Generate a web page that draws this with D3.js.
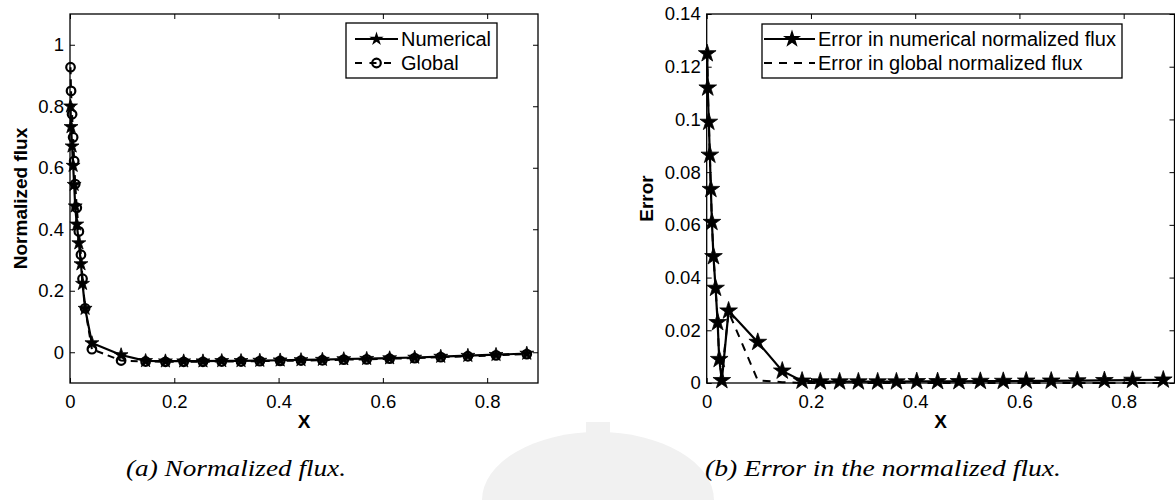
<!DOCTYPE html>
<html><head><meta charset="utf-8">
<script src="https://cdn.jsdelivr.net/npm/d3@7"></script>
<style>
body{margin:0;background:#fff;}
svg{display:block;}
</style>
</head><body>
<svg id="c" width="1175" height="500"></svg>
<script>
// ---- data ----
const xPos = [0.001, 0.002, 0.004, 0.006, 0.008, 0.010, 0.013, 0.017, 0.021, 0.024, 0.029, 0.042, 0.098,
  0.145, 0.183, 0.218, 0.255, 0.291, 0.328, 0.364, 0.403, 0.443, 0.484, 0.525, 0.569, 0.613, 0.661, 0.711, 0.763, 0.817, 0.876];
const fluxNumerical = [0.800, 0.733, 0.670, 0.607, 0.545, 0.475, 0.416, 0.355, 0.287, 0.223, 0.142, 0.030, -0.009,
  -0.028, -0.029, -0.029, -0.029, -0.028, -0.028, -0.027, -0.026, -0.025, -0.024, -0.022, -0.021, -0.019, -0.017, -0.014, -0.011, -0.008, -0.004];
const fluxGlobal = [0.927, 0.850, 0.774, 0.699, 0.622, 0.547, 0.470, 0.393, 0.317, 0.239, 0.143, 0.010, -0.027,
  -0.030, -0.031, -0.031, -0.031, -0.030, -0.030, -0.029, -0.028, -0.027, -0.026, -0.024, -0.023, -0.021, -0.019, -0.016, -0.013, -0.010, -0.006];
const errNumerical = [0.125, 0.112, 0.099, 0.0865, 0.0735, 0.061, 0.048, 0.036, 0.023, 0.009, 0.001, 0.0274, 0.0155,
  0.0046, 0.0008, 0.0005, 0.0005, 0.0005, 0.0005, 0.0005, 0.0006, 0.0006, 0.0006, 0.0007, 0.0007, 0.0008, 0.0008, 0.0009, 0.0010, 0.0011, 0.0012];
const errGlobal = [0.125, 0.112, 0.099, 0.0865, 0.0735, 0.061, 0.048, 0.036, 0.024, 0.008, 0.003, 0.027, 0.001,
  0.0003, 0, 0, 0, 0, 0, 0, 0, 0, 0, 0, 0, 0, 0, 0, 0, 0, 0];
const xTicks = [0, 0.2, 0.4, 0.6, 0.8];
const xTickLabels = ["0", "0.2", "0.4", "0.6", "0.8"];
const fluxTicks = [0, 0.2, 0.4, 0.6, 0.8, 1];
const fluxTickLabels = ["0", "0.2", "0.4", "0.6", "0.8", "1"];
const errTicks = [0, 0.02, 0.04, 0.06, 0.08, 0.1, 0.12, 0.14];
const errTickLabels = ["0", "0.02", "0.04", "0.06", "0.08", "0.1", "0.12", "0.14"];
const legendFlux = ["Numerical", "Global"];
const legendErr = ["Error in numerical normalized flux", "Error in global normalized flux"];
const axisTitles = ["Normalized flux", "Error", "X"];
const captions = ["(a) Normalized flux.", "(b) Error in the normalized flux."];

const SANS = '"Liberation Sans", Arial, Helvetica, sans-serif';
const SERIF = '"Liberation Serif", "DejaVu Serif", serif';
const svg = d3.select("#c");

// faint background watermark
const wm = svg.append("g").attr("fill", "#f1f1f1");
wm.append("path").attr("d", "M482,500 A116,68 0 0 1 714,500 Z");
wm.append("rect").attr("x", 586).attr("y", 422).attr("width", 24).attr("height", 14);

const TICK_FS = 18.5, LEG_FS = 20, TITLE_FS = 19;

function panel(cfg) {
  const g = svg.append("g");
  const x = d3.scaleLinear().domain([0, 0.8975]).range([cfg.left, cfg.right]);
  const y = d3.scaleLinear().domain(cfg.yDomain).range([cfg.bottom, cfg.top]);

  const fmtX = (d) => xTickLabels[xTicks.indexOf(d)];
  const fmtY = (d) => cfg.yLabels[cfg.yTicks.indexOf(d)];

  const ax = g.append("g").attr("transform", `translate(0,${cfg.bottom})`)
    .call(d3.axisBottom(x).tickValues(xTicks).tickFormat(fmtX).tickSizeInner(-5).tickSizeOuter(0).tickPadding(12));
  const ay = g.append("g").attr("transform", `translate(${cfg.left},0)`)
    .call(d3.axisLeft(y).tickValues(cfg.yTicks).tickFormat(fmtY).tickSizeInner(-5).tickSizeOuter(0).tickPadding(6));
  const at = g.append("g").attr("transform", `translate(0,${cfg.top})`)
    .call(d3.axisTop(x).tickValues(xTicks).tickFormat("").tickSizeInner(-5).tickSizeOuter(0));
  const ar = g.append("g").attr("transform", `translate(${cfg.right},0)`)
    .call(d3.axisRight(y).tickValues(cfg.yTicks).tickFormat("").tickSizeInner(-5).tickSizeOuter(0));
  [ax, ay, at, ar].forEach(a => {
    a.select(".domain").remove();
    a.selectAll("line").attr("stroke", "#000").attr("stroke-width", 1);
    a.selectAll("text").attr("font-size", TICK_FS).attr("font-family", SANS).attr("fill", "#000");
  });

  g.append("rect").attr("x", cfg.left).attr("y", cfg.top)
    .attr("width", cfg.right - cfg.left).attr("height", cfg.bottom - cfg.top)
    .attr("fill", "none").attr("stroke", "#000").attr("stroke-width", 1.3);

  // axis titles
  g.append("text").attr("x", (cfg.left + cfg.right) / 2).attr("y", cfg.bottom + 45)
    .attr("text-anchor", "middle").attr("font-family", SANS).attr("font-size", TITLE_FS).attr("font-weight", "bold").text(axisTitles[2]);
  g.append("text").attr("transform", `translate(${cfg.ytitleX},${(cfg.top + cfg.bottom) / 2}) rotate(-90)`)
    .attr("text-anchor", "middle").attr("font-family", SANS).attr("font-size", TITLE_FS).attr("font-weight", "bold").text(cfg.yTitle);

  return { g, x, y };
}

function starPath(R) {
  return d3.symbol().type(d3.symbolStar).size(R * R / 0.8908130915292852)();
}

// ---------- Panel (a) ----------
const A = panel({ left: 70, right: 538, top: 14, bottom: 383, yDomain: [-0.1, 1.1],
  yTicks: fluxTicks, yLabels: fluxTickLabels, yTitle: axisTitles[0], ytitleX: 27 });

const lineA = (arr) => d3.line().x((d, i) => A.x(xPos[i])).y(d => A.y(d))(arr);
A.g.append("path").attr("d", lineA(fluxGlobal)).attr("fill", "none").attr("stroke", "#000")
  .attr("stroke-width", 2).attr("stroke-dasharray", "7,5");
A.g.append("g").selectAll("circle").data(fluxGlobal).join("circle")
  .attr("cx", (d, i) => A.x(xPos[i])).attr("cy", d => A.y(d)).attr("r", 4.3)
  .attr("fill", "none").attr("stroke", "#000").attr("stroke-width", 2.2);
A.g.append("path").attr("d", lineA(fluxNumerical)).attr("fill", "none").attr("stroke", "#000").attr("stroke-width", 2.2);
A.g.append("g").selectAll("path").data(fluxNumerical).join("path")
  .attr("d", starPath(7.3)).attr("transform", (d, i) => `translate(${A.x(xPos[i])},${A.y(d)})`)
  .attr("fill", "#000").attr("stroke", "#000").attr("stroke-width", 0.8);

// legend (a)
{
  const lg = A.g.append("g");
  lg.append("rect").attr("x", 346).attr("y", 23).attr("width", 151).attr("height", 55)
    .attr("fill", "#fff").attr("stroke", "#000").attr("stroke-width", 1.3);
  const rows = [39, 63];
  lg.append("line").attr("x1", 355).attr("x2", 398).attr("y1", rows[0]).attr("y2", rows[0]).attr("stroke", "#000").attr("stroke-width", 2.2);
  lg.append("path").attr("d", starPath(7.5)).attr("transform", `translate(376.5,${rows[0]})`).attr("fill", "#000");
  lg.append("line").attr("x1", 355).attr("x2", 398).attr("y1", rows[1]).attr("y2", rows[1]).attr("stroke", "#000").attr("stroke-width", 2).attr("stroke-dasharray", "7,7.5");
  lg.append("circle").attr("cx", 376.5).attr("cy", rows[1]).attr("r", 4.3).attr("fill", "none").attr("stroke", "#000").attr("stroke-width", 2.2);
  legendFlux.forEach((t, i) => lg.append("text").attr("x", 401).attr("y", rows[i]).attr("dy", "0.36em")
    .attr("font-family", SANS).attr("font-size", LEG_FS).text(t));
}

// ---------- Panel (b) ----------
const B = panel({ left: 706.7, right: 1174.5, top: 14, bottom: 383, yDomain: [0, 0.14],
  yTicks: errTicks, yLabels: errTickLabels, yTitle: axisTitles[1], ytitleX: 653 });

const lineB = (arr) => d3.line().x((d, i) => B.x(xPos[i])).y(d => B.y(d))(arr);
B.g.append("path").attr("d", lineB(errGlobal)).attr("fill", "none").attr("stroke", "#000")
  .attr("stroke-width", 2).attr("stroke-dasharray", "8,7");
B.g.append("path").attr("d", lineB(errNumerical)).attr("fill", "none").attr("stroke", "#000").attr("stroke-width", 2.2);
B.g.append("g").selectAll("path").data(errNumerical).join("path")
  .attr("d", starPath(9.3)).attr("transform", (d, i) => `translate(${B.x(xPos[i])},${B.y(d)})`)
  .attr("fill", "#000").attr("stroke", "#000").attr("stroke-width", 0.8);

// legend (b)
{
  const lg = B.g.append("g");
  lg.append("rect").attr("x", 762).attr("y", 24).attr("width", 360).attr("height", 54)
    .attr("fill", "#fff").attr("stroke", "#000").attr("stroke-width", 1.3);
  const rows = [39, 63];
  lg.append("line").attr("x1", 764).attr("x2", 815).attr("y1", rows[0]).attr("y2", rows[0]).attr("stroke", "#000").attr("stroke-width", 2.2);
  lg.append("path").attr("d", starPath(9.5)).attr("transform", `translate(792,${rows[0]})`).attr("fill", "#000");
  lg.append("line").attr("x1", 764).attr("x2", 815).attr("y1", rows[1]).attr("y2", rows[1]).attr("stroke", "#000").attr("stroke-width", 2).attr("stroke-dasharray", "8,7");
  legendErr.forEach((t, i) => lg.append("text").attr("x", 818).attr("y", rows[i]).attr("dy", "0.36em")
    .attr("font-family", SANS).attr("font-size", LEG_FS).text(t));
}

// captions
svg.append("text").attr("x", 236).attr("y", 476).attr("text-anchor", "middle")
  .attr("font-family", SERIF).attr("font-style", "italic").attr("font-size", 24)
  .attr("textLength", 220).attr("lengthAdjust", "spacingAndGlyphs")
  .text(captions[0]);
svg.append("text").attr("x", 883).attr("y", 476).attr("text-anchor", "middle")
  .attr("font-family", SERIF).attr("font-style", "italic").attr("font-size", 24)
  .attr("textLength", 356).attr("lengthAdjust", "spacingAndGlyphs")
  .text(captions[1]);
</script>
</body></html>
